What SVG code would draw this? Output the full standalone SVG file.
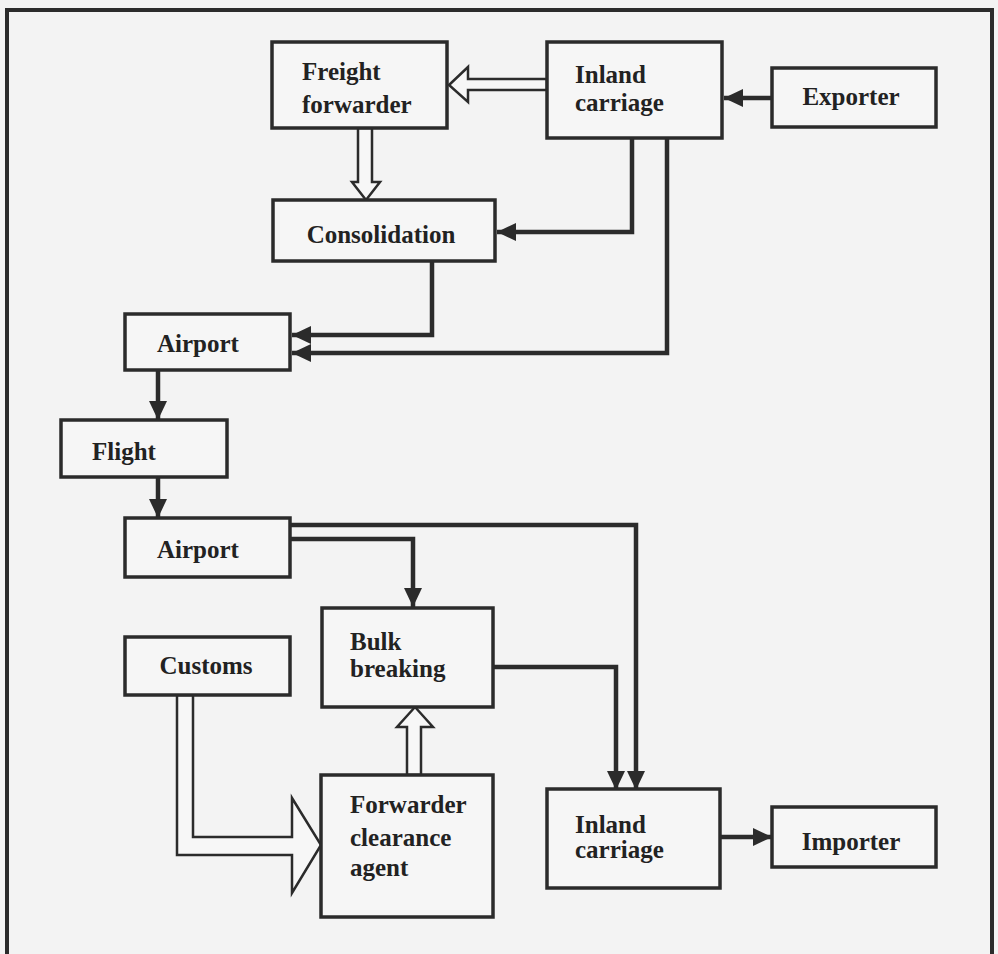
<svg xmlns="http://www.w3.org/2000/svg" width="998" height="954" viewBox="0 0 998 954">
<style>
.bg{fill:#f3f3f3}
.frame{fill:none;stroke:#2b2b2b;stroke-width:4}
.box rect{fill:#f6f6f6;stroke:#2b2b2b;stroke-width:3.5}
.box text{font-family:"Liberation Serif","Times New Roman",serif;font-weight:bold;font-size:25px;fill:#222}
.c{text-anchor:middle}
.line{fill:none;stroke:#2b2b2b;stroke-width:4.5;stroke-linejoin:miter}
.hollow{fill:#f7f7f7;stroke:#2b2b2b;stroke-width:2.5;stroke-linejoin:miter}
</style>
<defs>
<marker id="ah" markerUnits="userSpaceOnUse" markerWidth="20" markerHeight="20" viewBox="0 0 20 20" refX="19" refY="10" orient="auto">
<path d="M0,1 L19,10 L0,19 Z" fill="#2b2b2b"/>
</marker>
</defs>
<rect class="bg" x="0" y="0" width="998" height="954"/>
<path class="frame" d="M7,960 V10 H992 V960"/>

<g id="connectors">
<path class="line" marker-end="url(#ah)" d="M772,98 H724"/>
<path class="line" marker-end="url(#ah)" d="M632,138 V232 H497"/>
<path class="line" marker-end="url(#ah)" d="M432,261 V335 H292"/>
<path class="line" marker-end="url(#ah)" d="M667,138 V353 H292"/>
<path class="line" marker-end="url(#ah)" d="M158,370 V420"/>
<path class="line" marker-end="url(#ah)" d="M158,477 V518"/>
<path class="line" marker-end="url(#ah)" d="M290,525 H636 V790"/>
<path class="line" marker-end="url(#ah)" d="M290,539 H413 V607"/>
<path class="line" marker-end="url(#ah)" d="M493,667 H616 V790"/>
<path class="line" marker-end="url(#ah)" d="M720,837 H772"/>
<polygon class="hollow" points="547,79 468,79 468,67 449,85 468,102 468,90 547,90"/>
<polygon class="hollow" points="358,128 358,182 352,182 366,200 380,182 372,182 372,128"/>
<polygon class="hollow" points="177,695 177,855 292,855 292,893 321,845 292,798 292,837 193,837 193,695"/>
<polygon class="hollow" points="407,775 407,727 397,727 415,707 433,727 421,727 421,775"/>
</g>

<g id="freight-forwarder" class="box">
<rect x="272" y="42" width="175" height="86"/>
<text x="302" y="80">Freight</text>
<text x="302" y="113">forwarder</text>
</g>
<g id="inland-carriage-1" class="box">
<rect x="547" y="42" width="175" height="96"/>
<text x="575" y="83">Inland</text>
<text x="575" y="111">carriage</text>
</g>
<g id="exporter" class="box">
<rect x="772" y="68" width="164" height="59"/>
<text class="c" x="851" y="105">Exporter</text>
</g>
<g id="consolidation" class="box">
<rect x="273" y="200" width="222" height="61"/>
<text class="c" x="381" y="243">Consolidation</text>
</g>
<g id="airport-1" class="box">
<rect x="125" y="314" width="165" height="56"/>
<text x="157" y="352">Airport</text>
</g>
<g id="flight" class="box">
<rect x="61" y="420" width="166" height="57"/>
<text x="92" y="460">Flight</text>
</g>
<g id="airport-2" class="box">
<rect x="125" y="518" width="165" height="59"/>
<text x="157" y="558">Airport</text>
</g>
<g id="bulk-breaking" class="box">
<rect x="322" y="608" width="171" height="99"/>
<text x="350" y="650">Bulk</text>
<text x="350" y="677">breaking</text>
</g>
<g id="customs" class="box">
<rect x="125" y="637" width="165" height="58"/>
<text class="c" x="206" y="674">Customs</text>
</g>
<g id="forwarder-clearance-agent" class="box">
<rect x="321" y="775" width="172" height="142"/>
<text x="350" y="813">Forwarder</text>
<text x="350" y="846">clearance</text>
<text x="350" y="876">agent</text>
</g>
<g id="inland-carriage-2" class="box">
<rect x="547" y="789" width="173" height="99"/>
<text x="575" y="833">Inland</text>
<text x="575" y="858">carriage</text>
</g>
<g id="importer" class="box">
<rect x="772" y="807" width="164" height="60"/>
<text class="c" x="851" y="850">Importer</text>
</g>
</svg>
